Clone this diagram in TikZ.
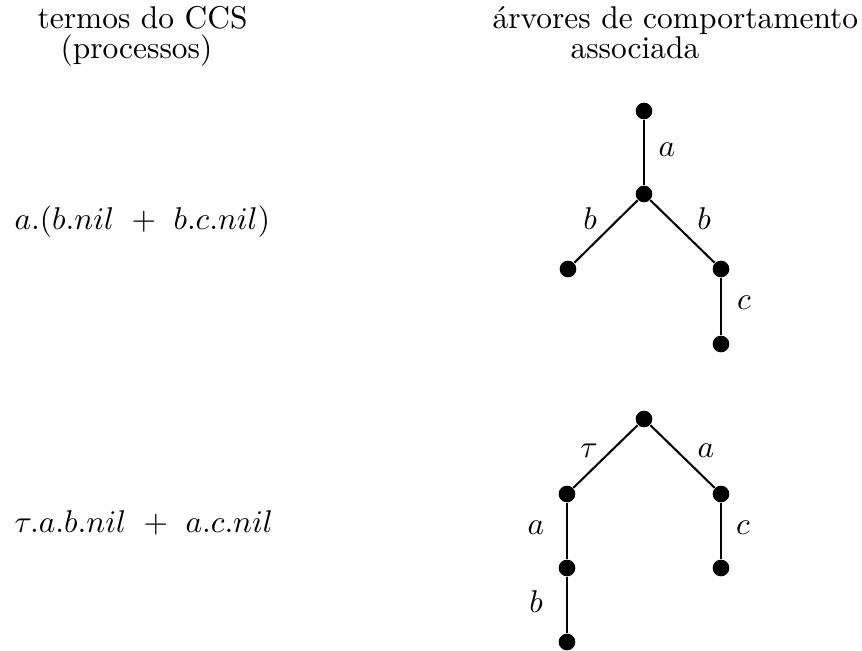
\documentclass[tikz,border=0pt]{standalone}
\begin{document}
\begin{tikzpicture}[x=0.318pt,y=-0.318pt,
  dot/.style={circle,fill=black,inner sep=0pt,minimum size=5.3pt},
  edge/.style={line width=0.65pt},
  lbl/.style={inner sep=0pt},
  txt/.style={anchor=base west,inner sep=0pt}]
\useasboundingbox (0,0) rectangle (862,651);
% headers
\node[txt] (h1) at (37,28) {termos do CCS};
\node[txt] (h2) at (60,58) {(processos)};
\node[txt] (h3) at (492,28) {árvores de comportamento};
\node[txt] (h4) at (570,58) {associada};
% terms
\node[txt] (t1) at (14,230) {$a.(b.nil\ +\ b.c.nil)$};
\node[txt] (t2) at (14,533) {$\tau.a.b.nil\ +\ a.c.nil$};
% tree 1
\node[dot] (r1) at (644,111) {};
\node[dot] (m1) at (644,194) {};
\node[dot] (l1) at (568,269) {};
\node[dot] (q1) at (721,269) {};
\node[dot] (s1) at (721,344) {};
\draw[edge] (r1) -- (m1);
\draw[edge] (m1) -- (l1);
\draw[edge] (m1) -- (q1);
\draw[edge] (q1) -- (s1);
\node[lbl] (la1) at (667,150) {$a$};
\node[lbl] (lb1) at (590,219) {$b$};
\node[lbl] (lb2) at (704,219) {$b$};
\node[lbl] (lc1) at (744,303) {$c$};
% tree 2
\node[dot] (r2) at (644,419) {};
\node[dot] (l2) at (567,494) {};
\node[dot] (q2) at (721,494) {};
\node[dot] (s2) at (721,568) {};
\node[dot] (m2) at (567,568) {};
\node[dot] (b2) at (567,642) {};
\draw[edge] (r2) -- (l2);
\draw[edge] (r2) -- (q2);
\draw[edge] (q2) -- (s2);
\draw[edge] (l2) -- (m2);
\draw[edge] (m2) -- (b2);
\node[lbl] (lt2) at (589,451) {$\tau$};
\node[lbl] (la2) at (706,451) {$a$};
\node[lbl] (la3) at (536,528) {$a$};
\node[lbl] (lc2) at (743,528) {$c$};
\node[lbl] (lb3) at (536,602) {$b$};
\end{tikzpicture}
\end{document}
